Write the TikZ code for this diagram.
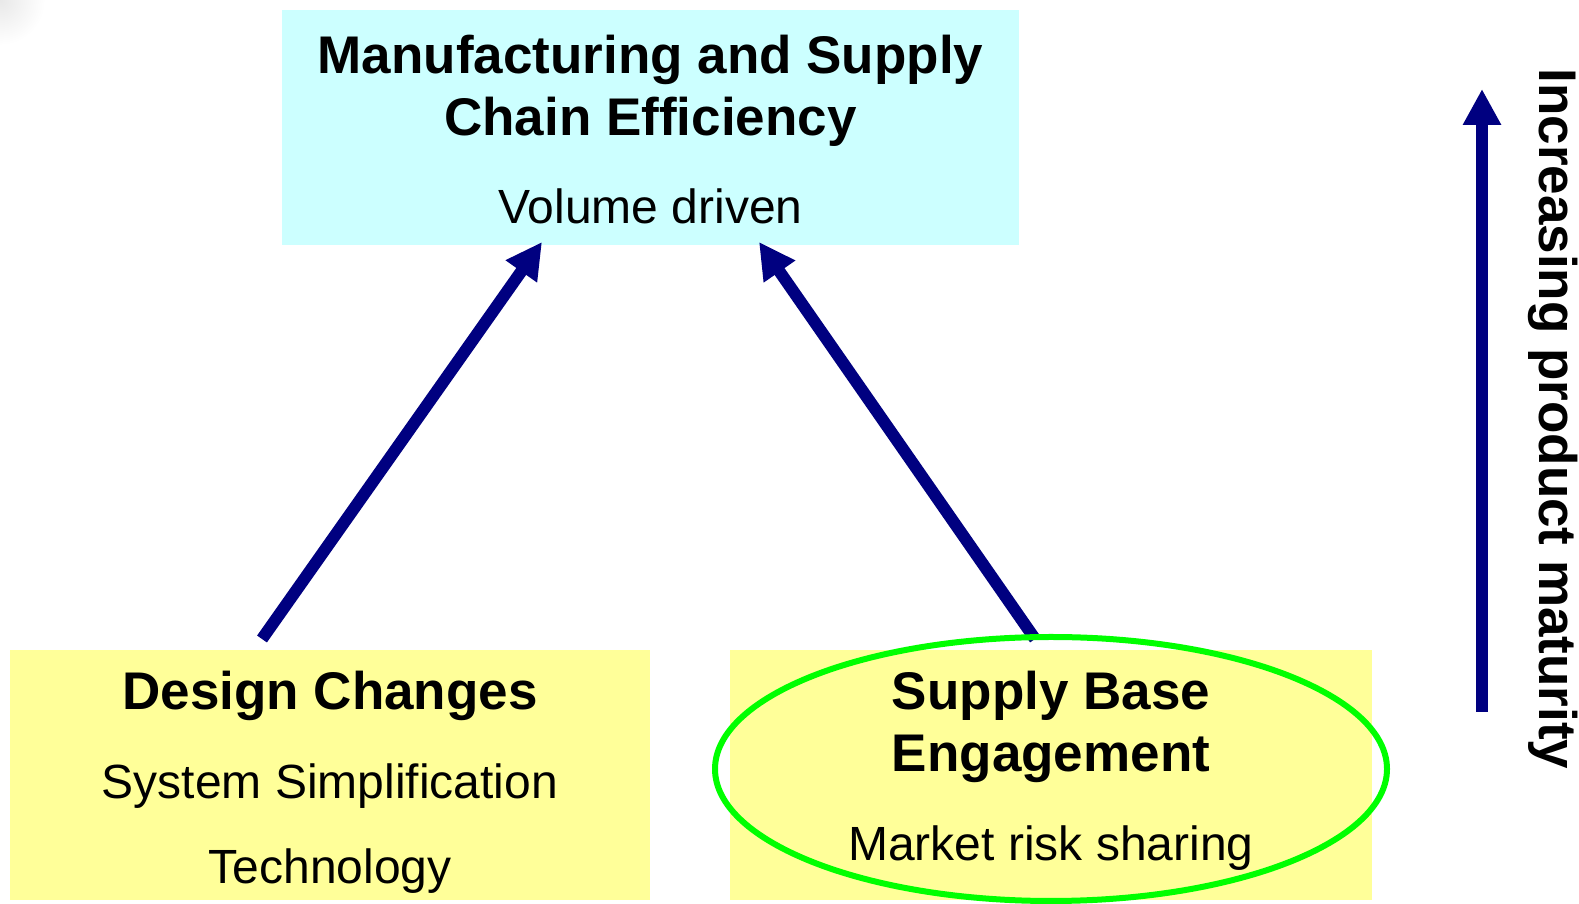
\documentclass[tikz,border=0pt]{standalone}
\usepackage{fontspec}
\setmainfont{Liberation Sans}
\usetikzlibrary{arrows.meta}
\definecolor{boxcyan}{RGB}{204,255,255}
\definecolor{boxyellow}{RGB}{255,255,153}
\definecolor{arrownavy}{RGB}{0,0,128}
\definecolor{ringgreen}{RGB}{0,255,0}
\begin{document}
\begin{tikzpicture}[x=1pt,y=1pt,
  panel/.style={draw=none, inner sep=0pt, outer sep=0pt},
  headline/.style={anchor=base, font=\bfseries\fontsize{53}{53}\selectfont},
  subline/.style={anchor=base, font=\fontsize{48}{48}\selectfont},
  flow/.style={arrownavy, line width=12pt, line cap=butt,
    -{Triangle[length=36pt,width=36pt]}},
  ring/.style={ringgreen, line width=6pt}]
\useasboundingbox (0,0) rectangle (1579,904);
\fill[white] (0,0) rectangle (1579,904);
% faint shadow in the upper left corner
\shade[inner color=black!9, outer color=white] (0,904) circle (45);

% panels
\node[panel, fill=boxcyan, minimum width=737pt, minimum height=235pt] (mfg) at (650.5,776.5) {};
\node[panel, fill=boxyellow, minimum width=640pt, minimum height=250pt] (design) at (330,129) {};
\node[panel, fill=boxyellow, minimum width=642pt, minimum height=250pt] (supply) at (1051,129) {};

% arrows into the top panel
\coordinate (designTail) at (262,265);
\coordinate (designTip) at (542,662);
\coordinate (supplyTail) at (1035,265);
\coordinate (supplyTip) at (759,662);
\draw[flow] (designTail) -- (designTip);
\draw[flow] (supplyTail) -- (supplyTip);

% highlight ring
\draw[ring] (1051,135) ellipse [x radius=336, y radius=132];

% maturity axis
\coordinate (axisTail) at (1482,192);
\coordinate (axisTip) at (1482,815);
\draw[flow] (axisTail) -- (axisTip);
\node[anchor=base, rotate=-90, font=\bfseries\fontsize{53}{53}\selectfont] (axisLabel) at (1539,485) {Increasing product maturity};

% panel texts
\node[headline] (mfgA) at (650.5,830) {Manufacturing and Supply};
\node[headline] (mfgB) at (650.5,768) {Chain Efficiency};
\node[subline] (mfgC) at (650.5,680) {Volume driven};

\node[headline] (designA) at (330,194) {Design Changes};
\node[subline] (designB) at (330,105) {System Simplification};
\node[subline] (designC) at (330,20) {Technology};

\node[headline] (supplyA) at (1051,194) {Supply Base};
\node[headline] (supplyB) at (1051,132) {Engagement};
\node[subline] (supplyC) at (1051,43) {Market risk sharing};
\end{tikzpicture}
\end{document}
